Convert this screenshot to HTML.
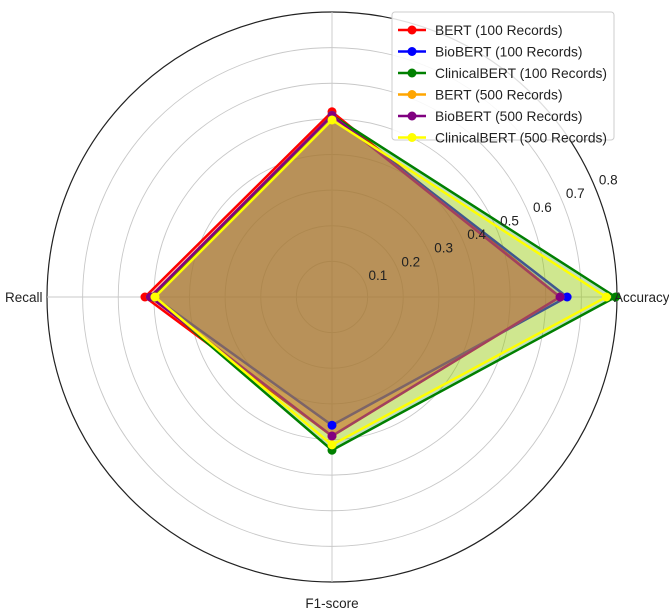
<!DOCTYPE html>
<html><head><meta charset="utf-8"><style>
body{margin:0;background:#fff;}
svg{display:block;font-family:"Liberation Sans",sans-serif;}
</style></head><body>
<svg id="chart" width="669" height="612">
<g id="grid"></g><g id="series"></g><g id="labels"></g><g id="legend"></g>
</svg>
<script>
const axes = ["Accuracy","Precision","Recall","F1-score"];
const seriesNames = ["BERT (100 Records)","BioBERT (100 Records)","ClinicalBERT (100 Records)","BERT (500 Records)","BioBERT (500 Records)","ClinicalBERT (500 Records)"];
const colors = ["red","blue","green","orange","purple","yellow"];
const bert100 = [0.64,0.52,0.525,0.39];
const biobert100 = [0.66,0.51,0.50,0.36];
const clinical100 = [0.796,0.51,0.50,0.43];
const bert500 = [0.64,0.51,0.51,0.39];
const biobert500 = [0.64,0.51,0.51,0.39];
const clinical500 = [0.77,0.497,0.497,0.415];
const tickValues = [0.1,0.2,0.3,0.4,0.5,0.6,0.7,0.8];
const tickLabels = ["0.1","0.2","0.3","0.4","0.5","0.6","0.7","0.8"];
const allSeries = [bert100,biobert100,clinical100,bert500,biobert500,clinical500];

const NS="http://www.w3.org/2000/svg";
const cx=332, cy=297, R=285, vmax=0.8;
function rScale(v){return v/vmax*R;}
function angle(i){return i*Math.PI/2;}
function pt(i,v){const a=angle(i);return [cx+rScale(v)*Math.cos(a), cy-rScale(v)*Math.sin(a)];}
function mk(tag,attrs,parent){const e=document.createElementNS(NS,tag);for(const k in attrs)e.setAttribute(k,attrs[k]);parent.appendChild(e);return e;}
const grid=document.getElementById('grid');
tickValues.forEach((v,i)=>{
  const c=mk('circle',{cx:cx,cy:cy,r:rScale(v),fill:'none',stroke:i===tickValues.length-1?'#222':'#c8c8c8','stroke-width':i===tickValues.length-1?1.2:0.9},grid);
  
  
});
axes.forEach((a,i)=>{
  const p=pt(i,vmax);
  const l=mk('line',{x1:cx,y1:cy,x2:p[0],y2:p[1],stroke:'#c8c8c8','stroke-width':0.9},grid);
  
  
});
const sg=document.getElementById('series');
allSeries.forEach((s,k)=>{
  const pts=s.map((v,i)=>pt(i,v));
  const poly=mk('polygon',{points:pts.map(p=>p.join(',')).join(' '),fill:colors[k],'fill-opacity':0.25,stroke:colors[k],'stroke-width':2.5,'stroke-linejoin':'miter'},sg);
  
  
});
allSeries.forEach((s,k)=>{
  s.forEach((v,i)=>{
    const p=pt(i,v);
    const c=mk('circle',{cx:p[0],cy:p[1],r:4.5,fill:colors[k]},sg);
    
    
  });
});
const lg=document.getElementById('labels');
tickValues.forEach((v,i)=>{
  const a=22.5*Math.PI/180, r=rScale(v)+14;
  const t=mk('text',{x:cx+r*Math.cos(a),y:cy-r*Math.sin(a)+2,'font-size':13.5,fill:'#222','text-anchor':'middle'},lg);
  t.textContent=tickLabels[i];
  
  
});
const axisLabelPos=[[614,302,'start'],[332,-20,'middle'],[5,302,'start'],[332,608,'middle']];
axes.forEach((a,i)=>{
  const t=mk('text',{x:axisLabelPos[i][0],y:axisLabelPos[i][1],'font-size':13.5,fill:'#222','text-anchor':axisLabelPos[i][2]},lg);
  t.textContent=a;
  
  
});
const leg=document.getElementById('legend');
const box=mk('rect',{x:392,y:12,width:222,height:128,fill:'#fff','fill-opacity':0.85,stroke:'#ccc',rx:3},leg);


seriesNames.forEach((n,k)=>{
  const y=30+k*21.5;
  const g=mk('g',{},leg);
  
  
  mk('line',{x1:398,y1:y,x2:426,y2:y,stroke:colors[k],'stroke-width':2.5},g);
  mk('circle',{cx:412,cy:y,r:4.5,fill:colors[k]},g);
  const t=mk('text',{x:435,y:y+5,'font-size':13.8,fill:'#222'},g);
  t.textContent=n;
});
</script>
</body></html>
